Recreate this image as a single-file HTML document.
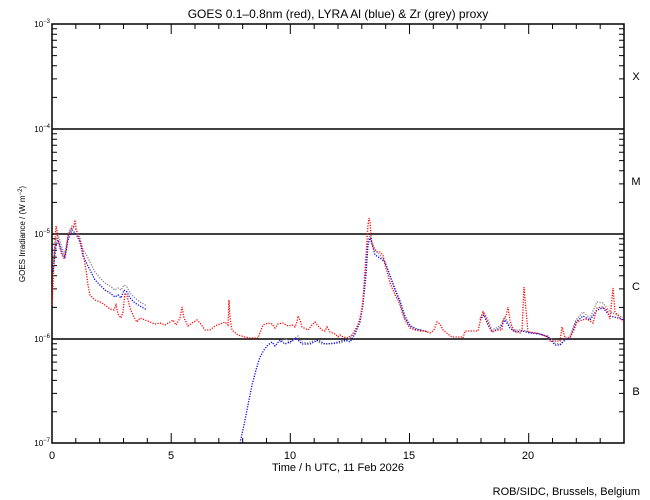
<!DOCTYPE html>
<html><head><meta charset="utf-8"><style>
html,body{margin:0;padding:0;background:#fff;}
svg{display:block;font-family:"Liberation Sans",sans-serif;}
</style></head><body>
<svg id="s" width="650" height="500" viewBox="0 0 650 500" xmlns="http://www.w3.org/2000/svg">
<rect width="650" height="500" fill="#fff"/>
<text x="338" y="18" font-size="12" text-anchor="middle">GOES 0.1–0.8nm (red), LYRA Al (blue) &amp; Zr (grey) proxy</text>
<g stroke="#000" stroke-width="1.5">
<line x1="52" y1="129" x2="624" y2="129"/>
<line x1="52" y1="234" x2="624" y2="234"/>
<line x1="52" y1="339" x2="624" y2="339"/>
</g>
<g id="ticks" stroke="#000" stroke-width="1" fill="none"></g>
<rect x="52" y="24" width="572" height="419" fill="none" stroke="#000" stroke-width="1.5"/>
<g font-size="8">
<text x="50" y="27" text-anchor="end">10<tspan font-size="6" dy="-4">−3</tspan></text>
<text x="50" y="132" text-anchor="end">10<tspan font-size="6" dy="-4">−4</tspan></text>
<text x="50" y="237" text-anchor="end">10<tspan font-size="6" dy="-4">−5</tspan></text>
<text x="50" y="342" text-anchor="end">10<tspan font-size="6" dy="-4">−6</tspan></text>
<text x="50" y="446" text-anchor="end">10<tspan font-size="6" dy="-4">−7</tspan></text>
</g>
<g font-size="11" text-anchor="middle">
<text x="52" y="459">0</text><text x="171" y="459">5</text><text x="290" y="459">10</text><text x="409" y="459">15</text><text x="528" y="459">20</text>
<text x="338" y="471">Time / h UTC, 11 Feb 2026</text>
<text x="636" y="80">X</text><text x="636" y="185">M</text><text x="636" y="290">C</text><text x="636" y="395">B</text>
</g>
<text transform="translate(25,234) rotate(-90)" font-size="8" text-anchor="middle">GOES Irradiance / (W m<tspan font-size="6" dy="-3">−2</tspan><tspan dy="3">)</tspan></text>
<text x="640" y="495" font-size="11" text-anchor="end">ROB/SIDC, Brussels, Belgium</text>
<g fill="none" stroke-width="1.3" stroke-dasharray="1.2 1.4">
<polyline stroke="#808080" points="53,262 56,240 58,234 62,248 65,254 68,236 72,226 76,230 80,238 83,250 86,254 90,262 95,272 100,278 105,283 110,286 115,290 118,288 121,290 124,285 127,287 130,293 135,298 140,302 147,306"/>
<polyline stroke="#808080" points="280,342 285,338 290,343 295,338 298,336 302,342 308,343 315,340 322,344 330,344 340,343 348,340 355,333 360,320 363,300 366,265 368,240 370,236 372,242 375,250 380,255 385,262 390,275 395,288 400,300 405,315 410,325 415,328 420,330 428,332"/>
<polyline stroke="#808080" points="480,318 484,312 488,320 492,330 500,326 505,318 510,325 515,330 522,330 530,332 540,334 548,336 555,343 560,344 565,340 570,336 576,320 583,312 590,318 597,302 603,303 610,312 618,315 624,318"/>
<polyline stroke="#0000ff" points="53,272 56,246 58,240 62,252 65,258 68,240 72,230 76,234 80,242 83,256 86,262 90,270 95,280 100,285 105,290 110,293 115,297 118,295 121,298 124,290 127,292 130,298 135,303 140,306 147,310"/>
<polyline stroke="#0000ff" points="240,443 244,425 248,405 252,385 256,370 260,357 264,350 268,345 272,342 275,346 280,340 285,344 290,342 296,338 302,344 310,344 318,340 325,344 335,343 345,340 350,342 355,334 360,322 363,305 366,275 368,245 370,238 372,244 375,255 380,258 385,262 390,276 395,290 400,302 405,318 410,326 415,329 420,330 428,332"/>
<polyline stroke="#0000ff" points="480,320 484,315 488,325 492,332 500,328 505,320 510,328 515,332 522,331 530,333 540,334 548,337 555,345 560,345 565,340 570,338 576,322 583,316 590,320 597,310 603,308 610,316 618,318 624,320"/>
<polyline stroke="#ff0000" points="52,305 53,285 54,262 55,240 56,226 57,230 58,240 60,248 62,255 64,258 66,250 68,236 70,230 72,228 74,226 75,220 76,228 78,236 80,240 83,252 86,270 88,285 90,295 95,300 100,302 105,305 110,309 114,310 116,305 118,314 121,318 123,312 125,293 127,296 130,308 134,317 137,322 140,318 145,320 150,322 155,324 160,323 165,325 170,322 173,320 176,325 180,318 182,307 184,318 188,326 192,323 197,320 200,323 205,330 210,330 215,326 220,324 225,322 228,325 229,300 230,318 232,330 238,335 245,337 250,338 255,338 258,338 261,330 263,325 268,323 272,324 275,328 278,324 283,323 288,326 292,325 295,327 297,322 298,316 300,320 302,327 308,330 312,325 315,322 318,326 322,330 325,331 327,327 330,332 335,334 338,337 340,335 343,337 348,338 352,335 355,330 358,325 360,318 362,310 363,300 364,285 365,270 366,255 367,240 368,225 369,218 370,222 371,235 372,245 374,248 377,252 380,252 383,255 385,265 388,275 390,283 393,290 396,297 398,300 400,305 402,312 405,320 408,325 410,328 415,330 420,331 425,331 430,333 434,330 437,322 440,324 443,330 448,334 452,337 456,337 462,337 463,338 465,331 470,331 478,331 481,318 483,312 486,318 490,328 492,332 497,330 502,330 503,320 506,316 508,307 510,320 513,330 520,333 522,330 524,287 526,310 528,332 537,333 548,337 550,341 556,341 560,341 562,327 565,338 570,338 574,330 577,322 582,320 587,319 593,323 597,308 602,307 607,310 610,319 613,288 615,312 620,318 624,322"/>
</g>
</svg>
<script>
(function(){
var g=document.getElementById('ticks'),d='';
var yd=[24,129,234,339,443];
for(var i=0;i<4;i++){var top=yd[i],bot=yd[i+1],h=bot-top;
 for(var k=2;k<=9;k++){var y=bot-Math.log10(k)*h;
  d+='M52 '+y.toFixed(1)+'h5M624 '+y.toFixed(1)+'h-5';}}
for(i=0;i<5;i++){d+='M52 '+yd[i]+'h10M624 '+yd[i]+'h-10';}
for(var t=0;t<=24;t++){var x=52+t*572/24;var L=(t%5==0)?10:5;
 d+='M'+x.toFixed(1)+' 443v-'+L+'M'+x.toFixed(1)+' 24v'+L;}
var p=document.createElementNS('http://www.w3.org/2000/svg','path');
p.setAttribute('d',d);g.appendChild(p);
})();
</script>
</body></html>
